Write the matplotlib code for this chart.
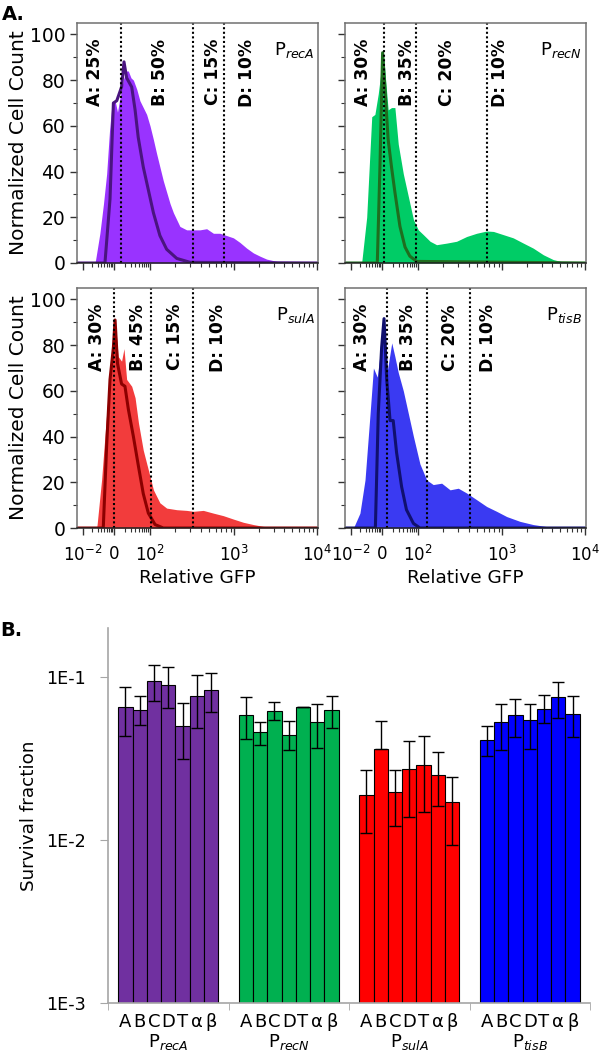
import numpy as np
import matplotlib
matplotlib.use('Agg')
from matplotlib import pyplot as plt
from matplotlib.transforms import blended_transform_factory

plt.rcParams['font.family'] = ['DejaVu Sans']
plt.rcParams['mathtext.fontset'] = 'dejavusans'

# ---- panel A: histograms, x is position along the GFP axis (0-100) ----
recA_x = [0, 7.5, 9.5, 11.0, 12.3, 13.5, 14.4, 15.8, 16.8, 17.8, 19.2, 20.3, 21.3, 22.4, 23.4, 24.8, 26.1, 27.5,
          28.9, 30.3, 31.7, 33.0, 34.4, 35.8, 37.2, 38.6, 40.0, 42.7, 45.5, 48.3, 51.0, 53.8, 56.6, 59.3, 62.1,
          64.9, 67.6, 70.4, 73.2, 75.9, 78.7, 82.9, 87.0, 100]
recA_y = [0, 0, 13, 26, 39, 58, 68, 71, 66, 72, 80, 84, 84, 81, 80, 76, 71, 68, 65, 60, 54, 48, 42, 36, 31, 26,
          22, 16, 14.5, 14.5, 14.5, 15, 13, 13, 12, 11, 9, 6.5, 4.4, 3, 1.7, 0.7, 0.3, 0]
recA_lx = [0, 11.6, 13.7, 15.1, 16.5, 18.5, 19.5, 20.6, 22.7, 24.1, 25.4, 27.5, 29.6, 31.7, 34.4, 37.2, 41.4, 46.9, 100]
recA_ly = [0, 0, 28, 70, 71, 77, 88, 81, 77, 67, 55, 42, 32, 22, 12, 6, 2, 0.3, 0]

recN_x = [0, 6.9, 9.0, 11.1, 12.4, 13.8, 15.9, 17.9, 19.3, 20.7, 22.1, 24.2, 26.3, 28.4, 30.4, 32.5, 35.3, 38.0,
          42.2, 46.3, 50.5, 54.6, 58.8, 61.6, 65.7, 69.8, 74.0, 78.1, 82.3, 86.4, 90.6, 94.7, 100]
recN_y = [0, 0, 20, 64, 65, 74, 92, 67, 68, 68, 52, 39, 29, 19, 14.5, 12.4, 9.5, 8, 8.7, 9.5, 11.6, 13, 14, 13.8,
          12.4, 11, 8.7, 6.5, 3.6, 1.5, 0.4, 0, 0]
recN_lx = [0, 13.4, 14.5, 15.6, 16.6, 17.9, 19.3, 20.7, 22.8, 24.9, 26.9, 29.7, 100]
recN_ly = [0, 0, 42, 92, 76, 54, 42, 31, 16, 7, 3, 0.7, 0]

sulA_x = [0, 8.2, 10.2, 12.3, 13.7, 15.8, 17.1, 18.5, 19.5, 20.6, 22.7, 24.1, 25.5, 27.5, 29.6, 31.7, 34.4, 37.2,
          41.4, 45.5, 48.3, 52.4, 56.6, 60.7, 64.9, 69.0, 73.2, 77.3, 82.9, 100]
sulA_y = [0, 0, 21, 50, 68, 91, 75, 73, 78.5, 65, 62, 57, 46, 34, 25.4, 16.7, 11, 8.7, 8, 7.7, 7.3, 7.7, 6.5, 5.4,
          3.9, 2.5, 1.5, 0.7, 0.1, 0]
sulA_lx = [0, 10.9, 12.3, 13.7, 15.1, 15.8, 16.8, 18.5, 19.9, 21.3, 23.4, 25.5, 27.5, 29.6, 32.4, 35.8, 100]
sulA_ly = [0, 0, 36, 65, 79, 91, 72, 63, 62, 52, 40, 27, 15, 6.5, 1.5, 0, 0]

tisB_x = [0, 3.5, 6.2, 8.3, 10.4, 11.8, 13.4, 15.2, 16.3, 17.6, 19.4, 20.7, 22.1, 24.2, 26.3, 28.4, 31.1, 33.9,
          36.6, 40.1, 43.6, 47.0, 50.5, 54.6, 58.8, 62.9, 67.1, 72.6, 78.1, 85.0, 91.9, 100]
tisB_y = [0, 0, 6.5, 21, 50, 70, 66, 82, 91.5, 69, 81, 75, 68, 60, 50, 40, 28, 21, 19, 19.6, 16.7, 17.4, 15.3,
          12.4, 9.4, 7.3, 5, 2.9, 1.5, 0.4, 0, 0]
tisB_lx = [0, 12.6, 13.8, 15.2, 16.2, 17.3, 18.7, 20.0, 21.4, 23.5, 25.5, 28.4, 31.1, 100]
tisB_ly = [0, 0, 50, 79, 91.6, 65, 47, 47, 33, 18, 8, 2, 0, 0]

recA_gates = [18.1, 48.3, 61.0]
recN_gates = [16.2, 29.5, 58.8]
sulA_gates = [15.5, 30.9, 48.3]
tisB_gates = [17.6, 33.9, 51.9]

recA_pct = ['A: 25%', 'B: 50%', 'C: 15%', 'D: 10%']
recN_pct = ['A: 30%', 'B: 35%', 'C: 20%', 'D: 10%']
sulA_pct = ['A: 30%', 'B: 45%', 'C: 15%', 'D: 10%']
tisB_pct = ['A: 30%', 'B: 35%', 'C: 20%', 'D: 10%']
recA_pct_x = [7.5, 34.4, 56.3, 70.4]
recN_pct_x = [7.3, 25.6, 42.2, 64.3]
sulA_pct_x = [8.2, 25.4, 40.7, 58.6]
tisB_pct_x = [6.9, 26.3, 43.6, 59.5]

gfp_ticks = [2.5, 15.2, 30.2, 65.3, 99.6]
gfp_labels = ['10$^{-2}$', '0', '10$^{2}$', '10$^{3}$', '10$^{4}$']

# ---- panel B: survival fraction, value / upper / lower ----
promoters = ['recA', 'recN', 'sulA', 'tisB']
bar_letters = ['A', 'B', 'C', 'D', 'T', 'α', 'β']
recA_s = [0.0655, 0.063, 0.095, 0.0893, 0.0498, 0.076, 0.0836]
recA_hi = [0.0869, 0.0768, 0.1185, 0.1146, 0.0692, 0.1024, 0.106]
recA_lo = [0.0436, 0.051, 0.0716, 0.065, 0.0314, 0.0484, 0.061]
recN_s = [0.0588, 0.0458, 0.0621, 0.0443, 0.0651, 0.0527, 0.0625]
recN_hi = [0.0754, 0.0527, 0.0703, 0.0534, 0.0651, 0.0686, 0.0768]
recN_lo = [0.0417, 0.0385, 0.0542, 0.0355, 0.0651, 0.0366, 0.0487]
sulA_s = [0.019, 0.0361, 0.0196, 0.0273, 0.029, 0.0252, 0.017]
sulA_hi = [0.027, 0.0534, 0.027, 0.0403, 0.0436, 0.0345, 0.0243]
sulA_lo = [0.01104, 0.0361, 0.01213, 0.01384, 0.0148, 0.0161, 0.00936]
tisB_s = [0.0413, 0.053, 0.0588, 0.0547, 0.064, 0.075, 0.0596]
tisB_hi = [0.0498, 0.0683, 0.0736, 0.0683, 0.0772, 0.0932, 0.0768]
tisB_lo = [0.0326, 0.0358, 0.0429, 0.0363, 0.0522, 0.056, 0.0429]

fill_cols = ['#9933ff', '#00cc66', '#f23c3c', '#3a3af2']
line_cols = ['#4a1480', '#1f6e1f', '#8c0000', '#10106e']
bar_cols = ['#7030a0', '#00b050', '#ff0000', '#0000ff']

fig = plt.figure(figsize=(6, 10.54), dpi=100)
W, H = 600.0, 1054.0

hist_data = [
    (recA_x, recA_y, recA_lx, recA_ly, recA_gates, recA_pct, recA_pct_x),
    (recN_x, recN_y, recN_lx, recN_ly, recN_gates, recN_pct, recN_pct_x),
    (sulA_x, sulA_y, sulA_lx, sulA_ly, sulA_gates, sulA_pct, sulA_pct_x),
    (tisB_x, tisB_y, tisB_lx, tisB_ly, tisB_gates, tisB_pct, tisB_pct_x),
]
boxes = [(77, 263), (345, 263), (77, 528), (345, 528)]

minor_x = []
for a, b in zip(gfp_ticks[:-1], gfp_ticks[1:]):
    for k in range(2, 10):
        minor_x.append(a + (b - a) * np.log10(k))

for i, (hx, hy, lx, ly, gates, pct, pct_x) in enumerate(hist_data):
    left, bottom = boxes[i]
    ax = fig.add_axes([left / W, 1 - bottom / H, 241 / W, 240 / H])
    ax.fill_between(hx, hy, 0, color=fill_cols[i], lw=0)
    ax.plot(lx, ly, color=line_cols[i], lw=2.2)
    for g in gates:
        ax.axvline(g, color='black', ls=(0, (1, 1.2)), lw=1.5)
    for t, px in zip(pct, pct_x):
        ax.text(px, 98, t, rotation=90, ha='center', va='top', fontsize=12.3, fontweight='bold')
    ax.text(98.5, 97.5, r'P$_{\mathit{' + promoters[i] + '}}$', ha='right', va='top', fontsize=13)
    ax.set_xlim(0, 100)
    ax.set_ylim(0, 105)
    ax.set_yticks([0, 20, 40, 60, 80, 100])
    ax.set_yticks(range(10, 100, 20), minor=True)
    ax.set_xticks(gfp_ticks)
    ax.set_xticks(minor_x, minor=True)
    ax.tick_params(axis='both', which='major', length=5, width=1, color='#333333', labelsize=13.5)
    ax.tick_params(axis='x', which='major', labelsize=12, pad=7)
    ax.tick_params(axis='both', which='minor', length=3, width=0.8, color='#333333')
    for s in ax.spines.values():
        s.set_color('#707070')
        s.set_linewidth(1.1)
    ax.spines['bottom'].set_color('#202020')
    if i % 2 == 0:
        ax.set_ylabel('Normalized Cell Count', fontsize=14.5, labelpad=1)
    else:
        ax.set_yticklabels([])
    if i >= 2:
        ax.set_xticklabels(gfp_labels)
        ax.set_xlabel('Relative GFP', fontsize=13.3, labelpad=3)
    else:
        ax.set_xticklabels([])

fig.text(2 / W, 1 - 14 / H, 'A.', fontsize=14, fontweight='bold', va='center')
fig.text(0 / W, 1 - 630 / H, 'B.', fontsize=14, fontweight='bold', va='center')

# ---- panel B ----
axb = fig.add_axes([108 / W, 1 - 1003 / H, 482 / W, 375 / H])
surv = [recA_s, recN_s, sulA_s, tisB_s]
his = [recA_hi, recN_hi, sulA_hi, tisB_hi]
los = [recA_lo, recN_lo, sulA_lo, tisB_lo]
bw = 0.83 / 7
tick_pos = []
tick_lab = []
for g in range(4):
    xs = [g + (j - 3) * bw for j in range(7)]
    vals = np.array(surv[g])
    err = [vals - np.array(los[g]), np.array(his[g]) - vals]
    axb.bar(xs, vals, width=bw, color=bar_cols[g], edgecolor='black', linewidth=0.8, zorder=2)
    axb.errorbar(xs, vals, yerr=err, fmt='none', ecolor='black', elinewidth=1.0, capsize=4, capthick=1.0, zorder=3)
    tick_pos += xs
    tick_lab += bar_letters
axb.set_yscale('log')
axb.set_ylim(1e-3, 0.2)
axb.set_xlim(-0.5, 3.5)
axb.set_yticks([1e-3, 1e-2, 1e-1])
axb.set_yticklabels(['1E-3', '1E-2', '1E-1'])
axb.yaxis.set_minor_locator(matplotlib.ticker.NullLocator())
axb.set_xticks(tick_pos)
axb.set_xticklabels(tick_lab)
axb.set_xticks([-0.5, 0.5, 1.5, 2.5, 3.5], minor=True)
axb.tick_params(axis='x', which='major', length=0, pad=7, labelsize=13)
axb.tick_params(axis='x', which='minor', length=5, color='#a6a6a6')
axb.tick_params(axis='y', which='major', length=6, color='#a6a6a6', labelsize=12.7, pad=10)
axb.set_ylabel('Survival fraction', fontsize=13.2, labelpad=6)
for s in ['top', 'right']:
    axb.spines[s].set_visible(False)
for s in ['left', 'bottom']:
    axb.spines[s].set_color('#a6a6a6')
    axb.spines[s].set_linewidth(1.2)
trans = blended_transform_factory(axb.transData, axb.transAxes)
for g, p in enumerate(promoters):
    axb.text(g, -0.105, r'P$_{\mathit{' + p + '}}$', transform=trans, ha='center', va='center', fontsize=13)

fig.savefig('out.png', dpi=100)
